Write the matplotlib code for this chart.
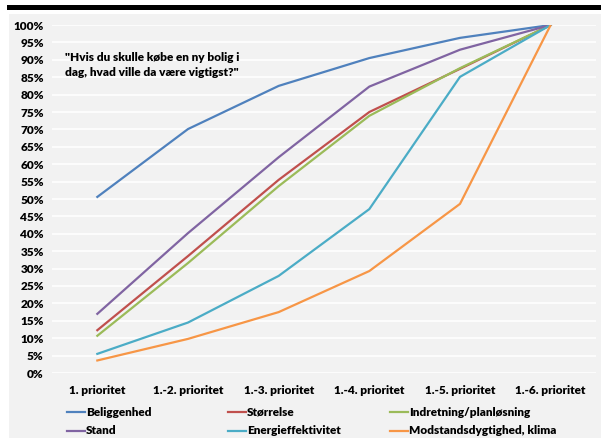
import matplotlib.pyplot as plt
from matplotlib.lines import Line2D
from matplotlib.patches import Rectangle

categories = ['1. prioritet', '1.-2. prioritet', '1.-3. prioritet',
              '1.-4. prioritet', '1.-5. prioritet', '1.-6. prioritet']

beliggenhed = [50.6, 70.1, 82.5, 90.5, 96.3, 100]
stand = [17.0, 40.2, 62.0, 82.3, 92.9, 100]
stoerrelse = [12.3, 33.6, 55.5, 75.0, 87.4, 100]
indretning = [10.7, 31.6, 53.7, 73.9, 87.6, 100]
energi = [5.5, 14.5, 27.9, 47.1, 85.1, 100]
modstand = [3.6, 9.8, 17.5, 29.3, 48.6, 100]

series = [
    ('Beliggenhed', beliggenhed, '#4F81BD'),
    ('Størrelse', stoerrelse, '#C0504D'),
    ('Indretning/planløsning', indretning, '#9BBB59'),
    ('Stand', stand, '#8064A2'),
    ('Energieffektivitet', energi, '#4BACC6'),
    ('Modstandsdygtighed, klima', modstand, '#F79646'),
]

plt.rcParams['font.family'] = ['Lato', 'DejaVu Sans']
plt.rcParams['font.weight'] = 'heavy'

W, H = 601, 438
fig = plt.figure(figsize=(W / 100, H / 100), dpi=100)
fig.patch.set_facecolor('white')

# gray chart area and black bar on top
fig.add_artist(Rectangle((9 / W, 0), 1 - 9 / W, 1 - 14 / H,
                         transform=fig.transFigure, facecolor='#f2f2f2',
                         edgecolor='none', zorder=0))
fig.add_artist(Rectangle((7 / W, 1 - 9.5 / H), 1, 4.5 / H,
                         transform=fig.transFigure, facecolor='black',
                         edgecolor='none', zorder=0))

ax = fig.add_axes([52 / W, 1 - 373 / H, (596 - 52) / W, (373 - 25) / H])
ax.set_facecolor('none')

x = range(len(categories))
for name, vals, col in series:
    ax.plot(x, vals, color=col, lw=1.6, label=name, solid_joinstyle='round')

ax.set_xlim(-0.5, len(categories) - 0.5)
ax.set_ylim(0, 100)
ax.set_yticks(range(0, 101, 5))
ax.set_yticklabels([f'{v}%' for v in range(0, 101, 5)], fontweight='heavy', fontsize=8.5)
ax.set_xticks(list(x))
ax.set_xticklabels(categories, fontweight='heavy', fontsize=8.5)
ax.tick_params(length=0)
ax.tick_params(axis='x', pad=9)
ax.tick_params(axis='y', pad=6)
ax.grid(axis='y', color='white', lw=1.2)
ax.set_axisbelow(True)
for s in ax.spines.values():
    s.set_visible(False)

ax.text(65 / W, 1 - 65 / H, '"Hvis du skulle købe en ny bolig i\ndag, hvad ville da være vigtigst?"',
        transform=fig.transFigure, fontsize=8.5, fontweight='heavy',
        va='center', ha='left', linespacing=1.45)

# legend laid out by hand, rows like in Excel
col_x = [67, 228, 390]
row_y = [412, 431]
for i, (name, vals, col) in enumerate(series):
    lx = col_x[i % 3]
    ly = 1 - row_y[i // 3] / H
    fig.add_artist(Line2D([lx / W, (lx + 18) / W], [ly, ly], color=col, lw=1.6))
    fig.text((lx + 19) / W, ly, name, fontsize=8.5, fontweight='heavy',
             va='center', ha='left')

fig.savefig('out.png', dpi=100)
